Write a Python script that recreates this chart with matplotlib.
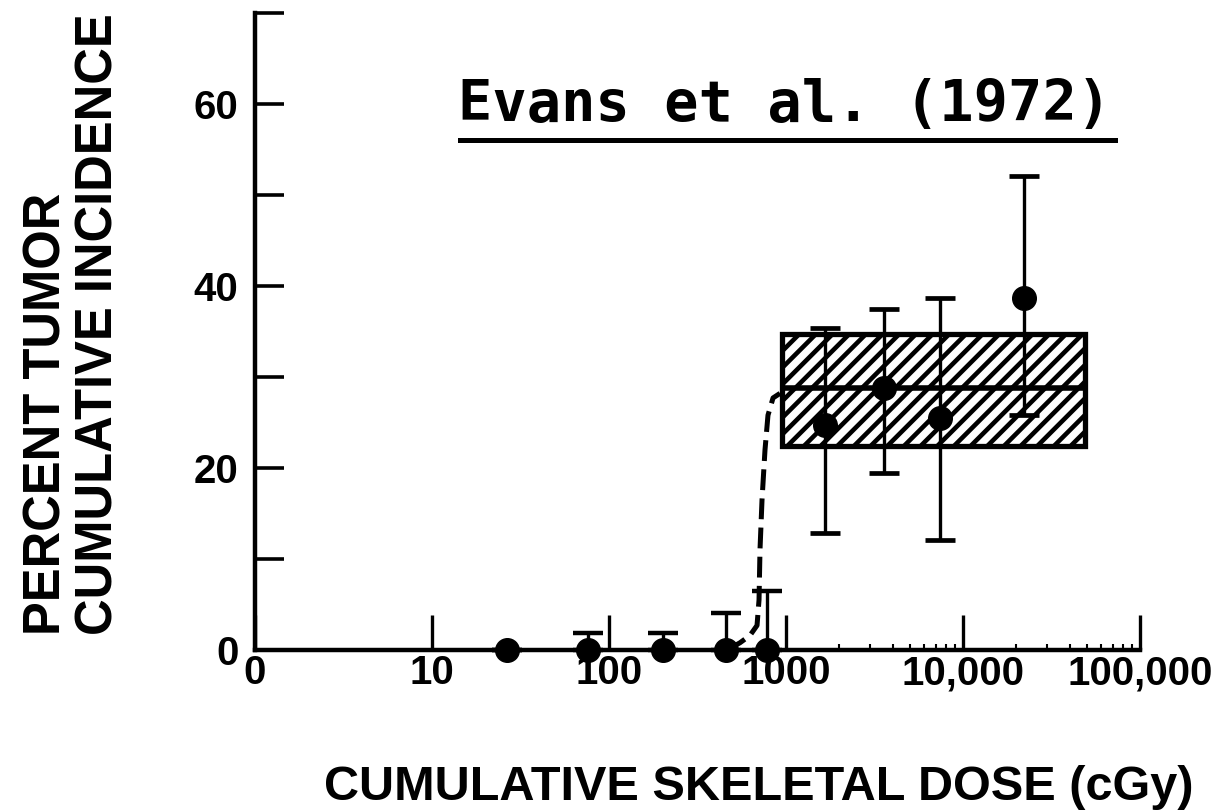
import matplotlib
matplotlib.use('Agg')
import matplotlib.pyplot as plt
from matplotlib.patches import Rectangle
from matplotlib.ticker import FixedLocator, NullFormatter

plt.rcParams['font.family'] = ['Liberation Sans', 'DejaVu Sans']
plt.rcParams['font.weight'] = 'bold'
plt.rcParams['lines.scale_dashes'] = False
plt.rcParams['hatch.linewidth'] = 3.3

# ---- data ----
dose_low = [26.5, 76, 202, 458, 781]
pct_low = [0, 0, 0, 0, 0]
upper_low = [0, 1.9, 1.9, 4.1, 6.5]

dose_high = [1660, 3580, 7420, 22100]
pct_high = [24.7, 28.8, 25.5, 38.7]
lower_high = [12.9, 19.5, 12.1, 25.8]
upper_high = [35.4, 37.5, 38.7, 52.1]

curve_dose = [464, 550, 626, 686, 704, 713, 732, 761, 791, 845, 925]
curve_pct = [0, 0.8, 1.6, 2.7, 5.5, 11.0, 16.5, 22.0, 25.8, 27.7, 28.2]

box_dose = [950, 49000]
box_pct = [22.4, 34.7]
box_mid = 28.8

xtick_vals = [1, 10, 100, 1000, 10000, 100000]
xtick_labels = ['0', '10', '100', '1000', '10,000', '100,000']
xminor_vals = [m * 10 ** e for e in (3, 4) for m in range(2, 10)]
ytick_vals = [0, 10, 20, 30, 40, 50, 60, 70]
ytick_labels = ['0', '', '20', '', '40', '', '60', '']

title_text = 'Evans et al. (1972)'
xlabel_text = 'CUMULATIVE SKELETAL DOSE (cGy)'
ylabel_line1 = 'PERCENT TUMOR'
ylabel_line2 = 'CUMULATIVE INCIDENCE'

# ---- figure ----
W, H = 1229, 811
fig = plt.figure(figsize=(W / 100, H / 100), dpi=100)
ax = fig.add_axes([255 / W, (H - 650) / H, (1140 - 255) / W, (650 - 13) / H])

ax.set_xscale('log')
ax.set_xlim(1, 1e5)
ax.set_ylim(0, 70)

for s in ('top', 'right'):
    ax.spines[s].set_visible(False)
for s in ('left', 'bottom'):
    ax.spines[s].set_linewidth(3.2)
    ax.spines[s].set_capstyle('projecting')

ax.xaxis.set_major_locator(FixedLocator(xtick_vals))
ax.set_xticklabels(xtick_labels)
ax.xaxis.set_minor_locator(FixedLocator(xminor_vals))
ax.xaxis.set_minor_formatter(NullFormatter())
ax.set_yticks(ytick_vals)
ax.set_yticklabels(ytick_labels)

ax.tick_params(axis='x', which='major', direction='in', length=25, width=2.4,
               pad=3, labelsize=29)
ax.tick_params(axis='x', which='minor', direction='in', length=4, width=1.5)
ax.tick_params(axis='y', which='major', direction='in', length=21, width=2.6,
               pad=12, labelsize=29)
for lab in ax.get_xticklabels() + ax.get_yticklabels():
    lab.set_fontweight('bold')

# hatched box
ax.add_patch(Rectangle((box_dose[0], box_pct[0]), box_dose[1] - box_dose[0],
                       box_pct[1] - box_pct[0], facecolor='white',
                       edgecolor='black', hatch='//', lw=3.8, zorder=3))
ax.plot(box_dose, [box_mid, box_mid], color='black', lw=4.0, zorder=4,
        solid_capstyle='butt')

# dashed curve
ax.plot(curve_dose, curve_pct, color='black', lw=3.6, dashes=(15, 6),
        zorder=4, clip_on=False)

# low dose points
ax.errorbar(dose_low, pct_low, yerr=[[0] * len(dose_low), upper_low], fmt='o',
            color='black', ms=17, elinewidth=2.4, capsize=11, capthick=3.2,
            zorder=5, clip_on=False)

# high dose points
yerr_hi = [[p - l for p, l in zip(pct_high, lower_high)],
           [u - p for p, u in zip(pct_high, upper_high)]]
ax.errorbar(dose_high, pct_high, yerr=yerr_hi, fmt='o', color='black', ms=17,
            elinewidth=2.4, capsize=11, capthick=3.4, zorder=5)

# title with underline
ax.text((458 - 255) / 885, (650 - 121) / 637, title_text, transform=ax.transAxes,
        family='DejaVu Sans Mono', fontweight='bold', fontsize=41,
        ha='left', va='baseline')
ax.plot([(460 - 255) / 885, (1115 - 255) / 885], [(650 - 140) / 637] * 2,
        transform=ax.transAxes, color='black', lw=3.6, clip_on=False)

# axis labels
fig.text(759 / W, (H - 787) / H, xlabel_text, ha='center', va='center',
         fontsize=35, fontweight='bold')
fig.text(47 / W, (H - 635) / H, ylabel_line1, rotation=90,
         rotation_mode='anchor', ha='left', va='center', fontsize=36.5,
         fontweight='bold')
fig.text(99 / W, (H - 635) / H, ylabel_line2, rotation=90,
         rotation_mode='anchor', ha='left', va='center', fontsize=36.5,
         fontweight='bold')

fig.savefig('out.png', dpi=100)
